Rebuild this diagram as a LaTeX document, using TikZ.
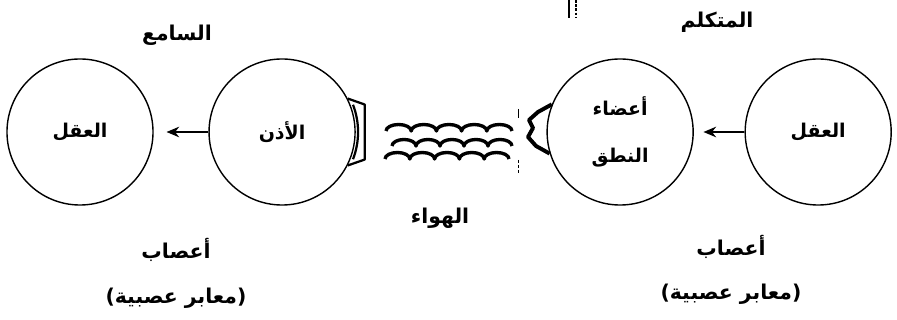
\documentclass[tikz,border=0pt]{standalone}
\usepackage{fontspec}
\usepackage{tikz}
\usetikzlibrary{positioning, arrows.meta}
\newfontfamily\arabicfont[Script=Arabic]{DejaVu Sans}
\TeXXeTstate=1
\newcommand{\artext}[1]{{\arabicfont\bfseries\beginR #1\endR}}

\begin{document}
\begin{tikzpicture}[>={Stealth[length=9pt,width=7.5pt]}, node distance=5cm, on grid,
    x=0.025cm, y=-0.025cm, line width=1pt,
    organ/.style={circle, draw, minimum size=3.65cm, inner sep=0pt, align=center,
      font=\fontsize{13.5}{16}\selectfont},
    label/.style={font=\fontsize{14.5}{17}\selectfont},
    wave/.style={line width=2.4pt, line join=round},
    lips/.style={line width=2.8pt, line join=round}]
  \useasboundingbox (0,0) rectangle (897,320);

  \node[organ] (brainL) at (80,132) {\artext{العقل}};
  \node[organ] (ear) [right=5.05cm of brainL] {\artext{الأذن}};
  \node[organ] (speech) [right=8.45cm of ear] {\artext{أعضاء}\\[17pt]\artext{النطق}};
  \node[organ] (brainR) [right=4.95cm of speech] {\artext{العقل}};

  \node[label] (hearer) at (177,35) {\artext{السامع}};
  \node[label] (speaker) at (717,22) {\artext{المتكلم}};
  \node[label] (air) at (440,218) {\artext{الهواء}};
  \node[label] (nervesL) at (176,250) {\artext{أعصاب}};
  \node[label] (pathsL) [below=1.2cm of nervesL] {\artext{(معابر عصبية)}};
  \node[label] (nervesR) at (731,247) {\artext{أعصاب}};
  \node[label] (pathsR) [below=1.18cm of nervesR] {\artext{(معابر عصبية)}};

  \path[->, line width=1.3pt]
    (ear) edge [shorten >=0.32cm] (brainL)
    (brainR) edge [shorten >=0.24cm] (speech);

  % ear piece
  \draw[line width=1.6pt, line join=round] (ear.27) -- ++(17,6) -- ++(0,55) -- (ear.-27);
  \draw[line width=1.6pt] (ear.center) ++(-21:76) arc[start angle=-21, end angle=21, radius=76];

  % air waves
  \foreach \sx/\sy/\r in {386/131/12.6, 392/146/12, 385/159/12.4}
    \draw[wave] (\sx,\sy) \foreach \i in {1,...,5} {arc[start angle=180, end angle=360, x radius=\r, y radius=6.5]};

  % mouth
  \draw[lips] (speech.158) -- (538,112) -- (529,120) -- (533,128) -- (528,137) -- (536,146) -- (speech.197);

  % marks
  \draw[line width=0.5pt] (518,109) -- (518,118);
  \draw[line width=0.5pt, dash pattern=on 2pt off 1.5pt] (518,160) -- (518,173);
  \draw[line width=2pt] (569,0) -- (569,18);
  \draw[line width=1.5pt, dash pattern=on 2pt off 1pt] (576,0) -- (576,18);
\end{tikzpicture}
\end{document}
